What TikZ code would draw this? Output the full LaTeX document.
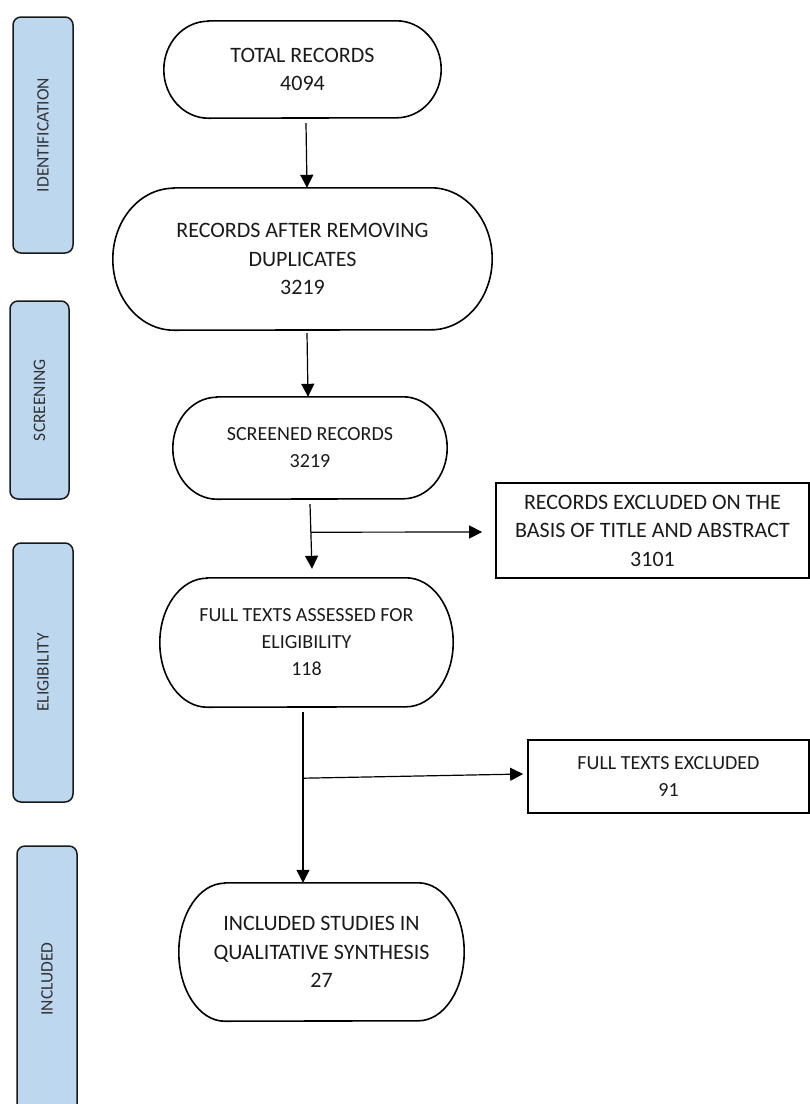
\documentclass[tikz,border=0pt]{standalone}
\usepackage{fontspec}
\setmainfont{Carlito}
\usetikzlibrary{arrows.meta,calc}
\definecolor{sideblue}{HTML}{BDD7EE}
\definecolor{inkgray}{HTML}{1A1A1A}
\definecolor{sidetext}{HTML}{333333}
\newcommand\termbox[7]{% name, options, cx, cy, w, h, text
  \pgfmathsetmacro\trx{0.161*#5}
  \pgfmathsetmacro\thh{#6/2}
  \node[termtext, minimum width=#5pt, minimum height=#6pt, #2] (#1) at (#3,#4) {#7};
  \draw[outline] ($(#1.north west)+(\trx,0)$) -- ($(#1.north east)-(\trx,0)$)
    arc[start angle=90,end angle=-90,x radius=\trx pt,y radius=\thh pt]
    -- ($(#1.south west)+(\trx,0)$)
    arc[start angle=270,end angle=90,x radius=\trx pt,y radius=\thh pt] -- cycle;
}
\begin{document}
\begin{tikzpicture}[x=1pt,y=-1pt,
  termtext/.style={rectangle, inner sep=0pt, align=center, text=inkgray},
  outline/.style={draw=black, line width=1.6pt},
  rectbox/.style={rectangle, draw=black, line width=1.7pt, inner sep=0pt, align=center, text=inkgray},
  sidebox/.style={rectangle, rotate=90, draw=black!90, fill=sideblue, rounded corners=8pt,
    line width=1.5pt, inner sep=0pt, text=sidetext, font=\fontsize{17.5}{20}\selectfont},
  big/.style={font=\fontsize{22}{28.5}\selectfont},
  mid/.style={font=\fontsize{20}{27}\selectfont},
  arr/.style={line width=1.2pt, -{Triangle[length=13pt,width=13pt]}},
  conn/.style={line width=1.2pt}]
\path[use as bounding box] (0,0) rectangle (810,1104);
\clip (0,0) rectangle (810,1104);

% side phase labels
\node[sidebox, minimum width=236pt, minimum height=60pt] (sident) at (43,135) {IDENTIFICATION};
\node[sidebox, minimum width=198pt, minimum height=59pt] (sscreen) at (39.5,400) {SCREENING};
\node[sidebox, minimum width=259pt, minimum height=60pt] (selig) at (43,672.5) {ELIGIBILITY};
\node[sidebox, minimum width=266pt, minimum height=60pt] (sincl) at (47,979) {INCLUDED};

% main flow
\termbox{total}{big}{302.5}{69.5}{277}{97}{TOTAL RECORDS\\4094}
\termbox{dedup}{big}{302.5}{259}{379}{142}{RECORDS AFTER REMOVING\\DUPLICATES\\3219}
\termbox{screen}{mid}{310}{448}{274}{102}{SCREENED RECORDS\\3219}
\termbox{full}{mid}{306.5}{642.5}{293}{129}{FULL TEXTS ASSESSED FOR\\ELIGIBILITY\\118}
\termbox{incl}{big}{321.5}{952}{285}{138}{INCLUDED STUDIES IN\\QUALITATIVE SYNTHESIS\\27}

\node[rectbox, big, minimum width=313pt, minimum height=95pt] (excl1) at (652.5,530.5)
  {RECORDS EXCLUDED ON THE\\BASIS OF TITLE AND ABSTRACT\\3101};
\node[rectbox, mid, minimum width=281pt, minimum height=73pt] (excl2) at (668.5,776.5)
  {FULL TEXTS EXCLUDED\\91};

% connectors
\draw[arr] ($(total.south)+(3.5,5)$) -- ($(dedup.north)+(4.5,0)$);
\draw[arr] ($(dedup.south)+(4.5,3)$) -- ($(screen.north)+(-2,0)$);

\coordinate (b1) at ($(screen.south)+(1,33)$);
\draw[arr] ($(screen.south)+(0,5)$) -- ($(full.north)+(5.5,-9)$);
\draw[arr] (b1) -- ($(excl1.west)+(-13,1.5)$);

\coordinate (b2) at ($(full.south)+(-3.5,71)$);
\draw[arr] ($(full.south)+(-3.5,5)$) -- ($(incl.north)+(-18.5,0)$);
\draw[arr] (b2) -- ($(excl2.west)+(-4,-2.5)$);
\end{tikzpicture}
\end{document}
